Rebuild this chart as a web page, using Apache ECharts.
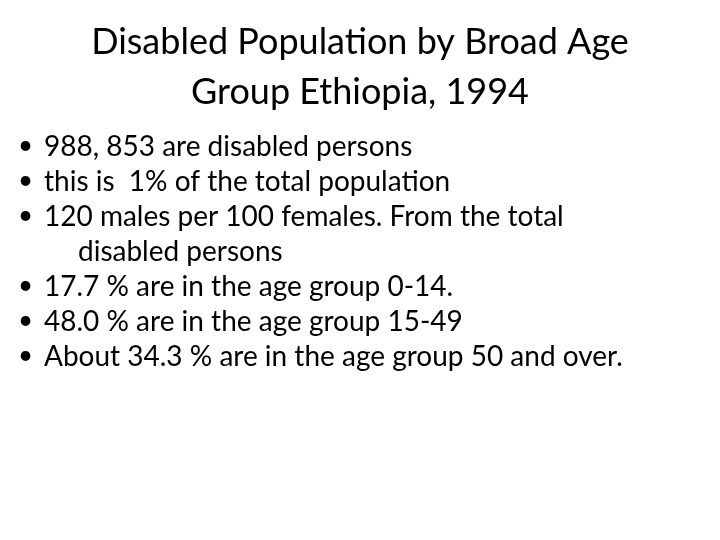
<!DOCTYPE html>
<html><head><meta charset="utf-8">
<script src="https://cdn.jsdelivr.net/npm/echarts@6/dist/echarts.min.js"></script>
<style>html,body{margin:0;padding:0;background:#fff}#c{width:720px;height:540px}</style>
</head><body><div id="c"></div>
<script>
const titleLines = ["Disabled Population by Broad Age", "Group Ethiopia, 1994"];
const bulletItems = [
  ["988, 853 are disabled persons"],
  ["this is  1% of the total population"],
  ["120 males per 100 females. From the total", "disabled persons"],
  ["17.7 % are in the age group 0-14."],
  ["48.0 % are in the age group 15-49"],
  ["About 34.3 % are in the age group 50 and over."]
];
const font = "Lato, 'Open Sans', sans-serif";
const g = [];
titleLines.forEach((t, i) => g.push({type:'text', left:'center', top: 24 + i*50,
  style:{text:t, font:"36px " + font, fill:'#000'}}));
let line = 0;
bulletItems.forEach(item => {
  g.push({type:'text', left:18, top:133 + line*35, style:{text:'•', font:"26px " + font, fill:'#000'}});
  item.forEach((t, j) => {
    g.push({type:'text', left: j ? 78 : 44, top:133 + line*35, style:{text:t, font:"28px " + font, fill:'#000'}});
    line++;
  });
});
const chart = echarts.init(document.getElementById('c'));
chart.setOption({backgroundColor:'#fff', graphic:g});
</script></body></html>
